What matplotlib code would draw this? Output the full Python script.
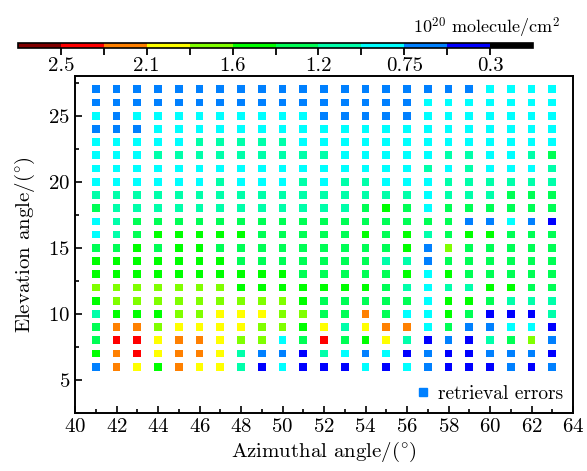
import numpy as np
import matplotlib
matplotlib.use("Agg")
import matplotlib.pyplot as plt
from matplotlib.colors import ListedColormap, BoundaryNorm
from matplotlib.cm import ScalarMappable
from matplotlib.lines import Line2D

plt.rcParams['font.family'] = ['cmr10', 'DejaVu Serif']
plt.rcParams['mathtext.fontset'] = 'cm'
plt.rcParams['axes.formatter.use_mathtext'] = True

# ---- data -------------------------------------------------------------
azimuth = list(range(41, 64))          # 41 .. 63
elevation = list(range(27, 5, -1))     # 27 .. 6 (top to bottom)

# column density class of every cell (code -> value in 1e20 molecule/cm^2)
class_value = {
    'M': 2.60,  # dark red
    'R': 2.40,  # red
    'O': 2.20,  # orange
    'Y': 1.95,  # yellow
    'L': 1.70,  # yellow-green
    'G': 1.50,  # green
    'H': 1.30,  # spring green
    'T': 1.10,  # aquamarine
    'C': 0.85,  # cyan
    'D': 0.65,  # dodger blue
    'B': 0.40,  # blue
    'K': 0.20,  # black
}

rows = [
    "DDDDDDDDDDDDDDDDDDDCCCC",  # 27
    "DDDDDDDDDDDDDDDDCCCCCCC",  # 26
    "CDCCCCCCCCCDDDDDCCCCCCC",  # 25
    "DDDCCCCCCCCCCCCCCCCCCCC",  # 24
    "CCCCCTTTTTCCCCCCCCCCCCC",  # 23
    "CCCTTTTTTTTTCCCCCTTCCTH",  # 22
    "CCCCCCCCCCCCCCCCTCTCCCT",  # 21
    "CCCCCCTCCCTCTTCCCTTTTTT",  # 20
    "TTTTTTTTTTTTTTTTCTTTHHH",  # 19
    "HTTTTTTTTTTTTHGHCHHHHHH",  # 18
    "CTHHHHHHHHHHHHHHHHDDCDB",  # 17
    "CTHGGGGGHHHHHGHGTHGGHHH",  # 16
    "HHGHGGHHHHHHHHHGDLHHHHH",  # 15
    "GGGGGGGHHHHHHHTTDHHHHHH",  # 14
    "GGGGGGGGGGHHHHHGCGHHHHH",  # 13
    "LLLLLLLGGGGGGGHTCTTGGHH",  # 12
    "GLLLLLLLLLGHHHHHCGGHTTT",  # 11
    "TGGGLLYYYLLHHOHCCGHBBBT",  # 10
    "HOOLYYYYLLGYTYOOCHDDCCB",  # 9
    "HRRYOOYLLCHRHGYTBDBTHLD",  # 8
    "GORYOOYTDDBTCDCBDBBDDDB",  # 7
    "DOYGOYYTBCBBBCBCDBBBDBD",  # 6
]

cbar_bounds = [0.1, 0.3, 0.525, 0.75, 0.975, 1.2, 1.4, 1.6, 1.85, 2.1, 2.3, 2.5, 2.7]
cbar_colors = ['#000000', '#0000ff', '#0080ff', '#00ffff', '#00ffaa', '#00ff55',
               '#00ff00', '#80ff00', '#ffff00', '#ff8000', '#ff0000', '#800000']
cbar_tick_values = [2.5, 2.3, 2.1, 1.85, 1.6, 1.4, 1.2, 0.975, 0.75, 0.525, 0.3]
cbar_tick_labels = ['2.5', '', '2.1', '', '1.6', '', '1.2', '', '0.75', '', '0.3']
x_ticks = list(range(40, 65, 2))
y_ticks = [5, 10, 15, 20, 25]

# ---- build points -------------------------------------------------------
xs, ys, vs = [], [], []
for elev, row in zip(elevation, rows):
    for az, code in zip(azimuth, row):
        xs.append(az)
        ys.append(elev)
        vs.append(class_value[code])

cmap = ListedColormap(cbar_colors)
norm = BoundaryNorm(cbar_bounds, cmap.N)

W, H = 587, 471
fig = plt.figure(figsize=(W / 100, H / 100), dpi=100)
ax = fig.add_axes([75 / W, 1 - 413 / H, 498 / W, 337 / H])

ax.scatter(xs, ys, c=vs, cmap=cmap, norm=norm, marker='s', s=31, linewidths=0)

ax.set_xlim(40, 64)
ax.set_ylim(3, 28)
ax.set_xticks(x_ticks)
ax.set_xticks(range(40, 65), minor=True)
ax.set_yticks(y_ticks)
ax.set_yticks(np.arange(2.5, 28, 2.5), minor=True)
ax.tick_params(which='both', direction='in', top=False, right=False,
               labelsize=15, width=1.2)
ax.tick_params(which='major', length=5)
ax.tick_params(which='minor', length=3)
for sp in ax.spines.values():
    sp.set_linewidth(1.4)
ax.set_xlabel(r'Azimuthal angle/$(^{\circ})$', fontsize=15, labelpad=3)
ax.set_ylabel(r'Elevation angle/$(^{\circ})$', fontsize=15, labelpad=8)

handle = Line2D([], [], marker='s', color='#0080ff', linestyle='none', markersize=5.5)
ax.legend([handle], ['retrieval errors'], loc='lower right', frameon=False,
          fontsize=14, handletextpad=0.3, handlelength=1.0,
          borderaxespad=0.1, bbox_to_anchor=(1.0, 0.0))

# ---- colour bar -----------------------------------------------------------
cax = fig.add_axes([18 / W, 1 - 48 / H, 515 / W, 5 / H])
cb = fig.colorbar(ScalarMappable(norm=norm, cmap=cmap), cax=cax,
                  orientation='horizontal', spacing='uniform')
cb.set_ticks(cbar_tick_values)
cb.set_ticklabels(cbar_tick_labels)
cb.minorticks_off()
cax.invert_xaxis()
cax.xaxis.set_ticks_position('bottom')
cax.tick_params(axis='x', which='major', direction='out', bottom=True,
                length=5, width=1.3, color='black', labelsize=15, pad=1.5)
cb.outline.set_linewidth(1.2)
fig.text(560 / W, 1 - 28 / H, r'$10^{20}$ molecule/cm$^{2}$', ha='right',
         va='center', fontsize=13)

fig.savefig('out.png', dpi=100)
